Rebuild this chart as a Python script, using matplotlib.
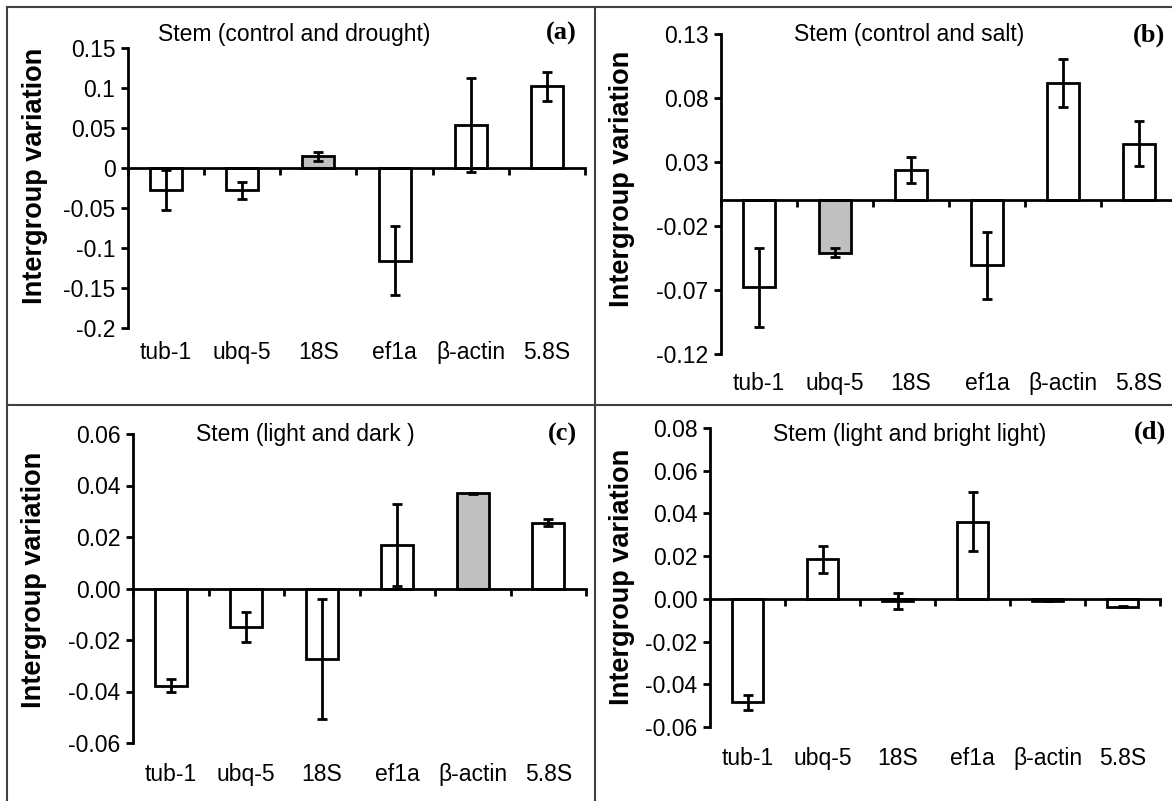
import matplotlib
matplotlib.use("Agg")
import matplotlib.pyplot as plt
from matplotlib import font_manager
from matplotlib.lines import Line2D

# Data
genes = ["tub-1", "ubq-5", "18S", "ef1a", "β-actin", "5.8S"]

drought_vals = [-0.028, -0.028, 0.0145, -0.116, 0.054, 0.102]
drought_err = [0.025, 0.011, 0.006, 0.043, 0.059, 0.018]

salt_vals = [-0.068, -0.041, 0.0236, -0.0507, 0.0917, 0.0442]
salt_err = [0.031, 0.0035, 0.0103, 0.026, 0.019, 0.0175]

dark_vals = [-0.0378, -0.0151, -0.0272, 0.0168, 0.0369, 0.0255]
dark_err = [0.0025, 0.0058, 0.0233, 0.016, 0.0002, 0.0014]

bright_vals = [-0.0484, 0.0186, -0.0010, 0.0362, -0.0008, -0.0036]
bright_err = [0.0035, 0.0063, 0.0037, 0.014, 0.0003, 0.0003]

drought_ticks = [0.15, 0.1, 0.05, 0, -0.05, -0.1, -0.15, -0.2]
drought_labels = ["0.15", "0.1", "0.05", "0", "-0.05", "-0.1", "-0.15", "-0.2"]
salt_ticks = [0.13, 0.08, 0.03, -0.02, -0.07, -0.12]
salt_labels = ["0.13", "0.08", "0.03", "-0.02", "-0.07", "-0.12"]
dark_ticks = [0.06, 0.04, 0.02, 0.0, -0.02, -0.04, -0.06]
dark_labels = ["0.06", "0.04", "0.02", "0.00", "-0.02", "-0.04", "-0.06"]
bright_ticks = [0.08, 0.06, 0.04, 0.02, 0.0, -0.02, -0.04, -0.06]
bright_labels = ["0.08", "0.06", "0.04", "0.02", "0.00", "-0.02", "-0.04", "-0.06"]

W, H = 1172, 801
names = {f.name for f in font_manager.fontManager.ttflist}
sans = "Liberation Sans" if "Liberation Sans" in names else "DejaVu Sans"
serif = "Liberation Serif" if "Liberation Serif" in names else "DejaVu Serif"
plt.rcParams["font.family"] = sans
small_size = 16.5

fig = plt.figure(figsize=(W / 100, H / 100), dpi=100)


def px_box(x0, y_top, x1, y_bot):
    # pixel box (origin top-left) -> figure fraction rect
    return [x0 / W, 1 - y_bot / H, (x1 - x0) / W, (y_bot - y_top) / H]


def draw_panel(rect, vals, errs, ticks, labels, gray, title, tag, title_xy, tag_xy, ylab_xy, lab_off):
    ax = fig.add_axes(rect)
    x = list(range(len(genes)))
    colors = ["#c0c0c0" if i == gray else "white" for i in x]
    ax.bar(x, vals, width=0.42, color=colors, edgecolor="black", linewidth=2, zorder=2)
    ax.errorbar(x, vals, yerr=errs, fmt="none", ecolor="black", elinewidth=2,
                capsize=3.5, capthick=2, zorder=3)

    ax.set_xlim(-0.5, len(genes) - 0.5)
    ax.set_ylim(ticks[-1], ticks[0])
    ax.set_yticks(ticks)
    ax.set_yticklabels(labels)
    ax.tick_params(axis="y", direction="out", length=5, width=2, labelsize=small_size, pad=4)

    # category axis crosses at zero, small ticks between categories
    ax.spines["bottom"].set_position(("data", 0))
    ax.spines["bottom"].set_linewidth(2)
    ax.spines["left"].set_linewidth(2)
    ax.spines["top"].set_visible(False)
    ax.spines["right"].set_visible(False)
    ax.set_xticks([i - 0.5 for i in range(len(genes) + 1)])
    ax.set_xticklabels([])
    ax.tick_params(axis="x", direction="out", length=5, width=2)

    # category names sit under the plot area
    for i, g in enumerate(genes):
        ax.annotate(g, xy=(i, 0), xycoords=("data", "axes fraction"),
                    xytext=(0, -lab_off), textcoords="offset points",
                    ha="center", va="center", fontsize=small_size, annotation_clip=False)

    fig.text(title_xy[0] / W, 1 - title_xy[1] / H, title, ha="center", va="center", fontsize=small_size)
    fig.text(tag_xy[0] / W, 1 - tag_xy[1] / H, tag, ha="right", va="center", fontsize=19,
             fontweight="bold", family=serif)
    fig.text(ylab_xy[0] / W, 1 - ylab_xy[1] / H, "Intergroup variation", rotation=90,
             ha="center", va="center", fontsize=19.5, fontweight="bold")
    return ax


draw_panel(px_box(128, 48, 585, 328), drought_vals, drought_err, drought_ticks, drought_labels, 2,
           "Stem (control and drought)", "(a)", (294, 34), (577, 33), (35, 176), 17.5)
draw_panel(px_box(721, 34, 1177, 354), salt_vals, salt_err, salt_ticks, salt_labels, 1,
           "Stem (control and salt)", "(b)", (909, 35), (1165, 35), (622, 179), 21)
draw_panel(px_box(133, 434, 586, 743), dark_vals, dark_err, dark_ticks, dark_labels, 4,
           "Stem (light and dark )", "(c)", (305, 434), (577, 434), (34, 580), 23)
draw_panel(px_box(710, 428, 1160, 727), bright_vals, bright_err, bright_ticks, bright_labels, None,
           "Stem (light and bright light)", "(d)", (910, 434), (1166, 432), (622, 577), 22.5)

# Frame lines between the panels
frame = dict(color="#404040", linewidth=1.5, transform=fig.transFigure)
fig.add_artist(Line2D([7 / W, 7 / W], [0, 1 - 7 / H], **frame))
fig.add_artist(Line2D([7 / W, 1], [1 - 7 / H, 1 - 7 / H], **frame))
fig.add_artist(Line2D([595 / W, 595 / W], [0, 1 - 7 / H], **frame))
fig.add_artist(Line2D([7 / W, 1], [1 - 405 / H, 1 - 405 / H], **frame))

fig.savefig("out.png", dpi=100)
